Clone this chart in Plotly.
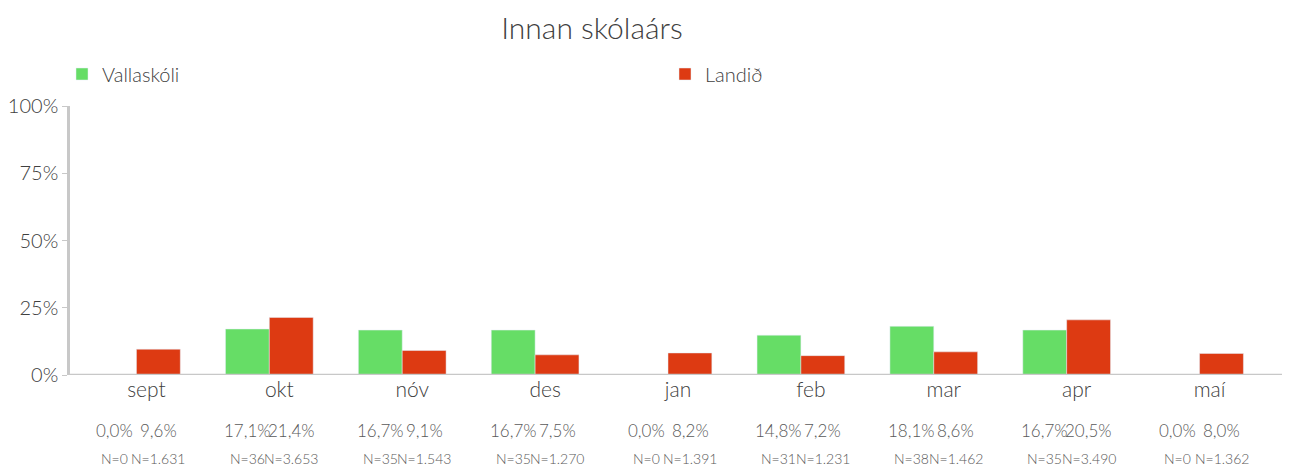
import plotly.graph_objects as go

months = ["sept", "okt", "nóv", "des", "jan", "feb", "mar", "apr", "maí"]
vallaskoli = [0.0, 17.1, 16.7, 16.7, 0.0, 14.8, 18.1, 16.7, 0.0]
landid = [9.6, 21.4, 9.1, 7.5, 8.2, 7.2, 8.6, 20.5, 8.0]
n_vallaskoli = [0, 36, 35, 35, 0, 31, 38, 35, 0]
n_landid = [1631, 3653, 1543, 1270, 1391, 1231, 1462, 3490, 1362]

GREEN = "#66DD66"
RED = "#DD3A12"
FONT = "Lato"
TXT = "#404040"
LBL = "#595959"

def pct(v):
    return f"{v:.1f}".replace(".", ",") + "%"

def nfmt(n):
    return "N=" + f"{n:,}".replace(",", ".")

fig = go.Figure()
fig.add_trace(go.Bar(name="Vallaskóli", x=months, y=[v / 100 for v in vallaskoli],
                     marker=dict(color=GREEN), legend="legend"))
fig.add_trace(go.Bar(name="Landið", x=months, y=[v / 100 for v in landid],
                     marker=dict(color=RED), legend="legend2"))

SH = 22
for i, m in enumerate(months):
    for vals, ns, dx in ((vallaskoli, n_vallaskoli, -SH), (landid, n_landid, SH)):
        fig.add_annotation(x=m, y=0, xref="x", yref="y", text=pct(vals[i]),
                           showarrow=False, xshift=dx, yshift=-55, yanchor="middle",
                           font=dict(family=FONT, size=17, color=LBL, weight=300))
        fig.add_annotation(x=m, y=0, xref="x", yref="y", text=nfmt(ns[i]),
                           showarrow=False, xshift=dx, yshift=-83, yanchor="middle",
                           font=dict(family=FONT, size=14, color=LBL, weight=300))

L, R = 70, 24
W = 1290 - L - R
fig.add_shape(type="line", xref="paper", yref="y", x0=0, x1=(1282 - L) / W, y0=0, y1=0,
              line=dict(color="#C8C8C8", width=2.5), layer="above")

legfont = dict(family=FONT, size=20, color=TXT, weight=300)
fig.update_layout(
    width=1290, height=470,
    margin=dict(l=L, r=R, t=106, b=95, autoexpand=False),
    paper_bgcolor="white", plot_bgcolor="white",
    barmode="group", bargap=0.34, bargroupgap=0,
    font=dict(family=FONT, color=TXT),
    title=dict(text="Innan skólaárs", x=592 / 1290, xanchor="center", xref="container",
               y=1 - 28 / 470, yanchor="middle", yref="container",
               font=dict(family=FONT, size=30, color=TXT, weight=300)),
    legend=dict(orientation="h", xref="container", yref="container",
                x=62 / 1290, xanchor="left", y=1 - 74 / 470, yanchor="middle",
                itemwidth=30, font=legfont, itemclick=False),
    legend2=dict(orientation="h", xref="container", yref="container",
                 x=665 / 1290, xanchor="left", y=1 - 74 / 470, yanchor="middle",
                 itemwidth=30, font=legfont, itemclick=False),
    showlegend=True,
)
fig.update_xaxes(showline=False, showgrid=False, ticks="", ticklabelshift=10,
                 tickfont=dict(family=FONT, size=21, color=TXT, weight=300))
fig.update_yaxes(range=[0, 1], tickvals=[0, 0.25, 0.5, 0.75, 1],
                 ticktext=["0%", "25%", "50%", "75%", "100%"],
                 showgrid=False, zeroline=False, showline=True, linecolor="#C8C8C8",
                 linewidth=2.5, ticks="outside", ticklen=5, tickcolor="#C8C8C8",
                 tickfont=dict(family=FONT, size=20, color=TXT, weight=300))

fig.write_html("out.html", config={"displayModeBar": False},
               post_script="document.body.style.margin='0';document.body.style.overflow='hidden';")
